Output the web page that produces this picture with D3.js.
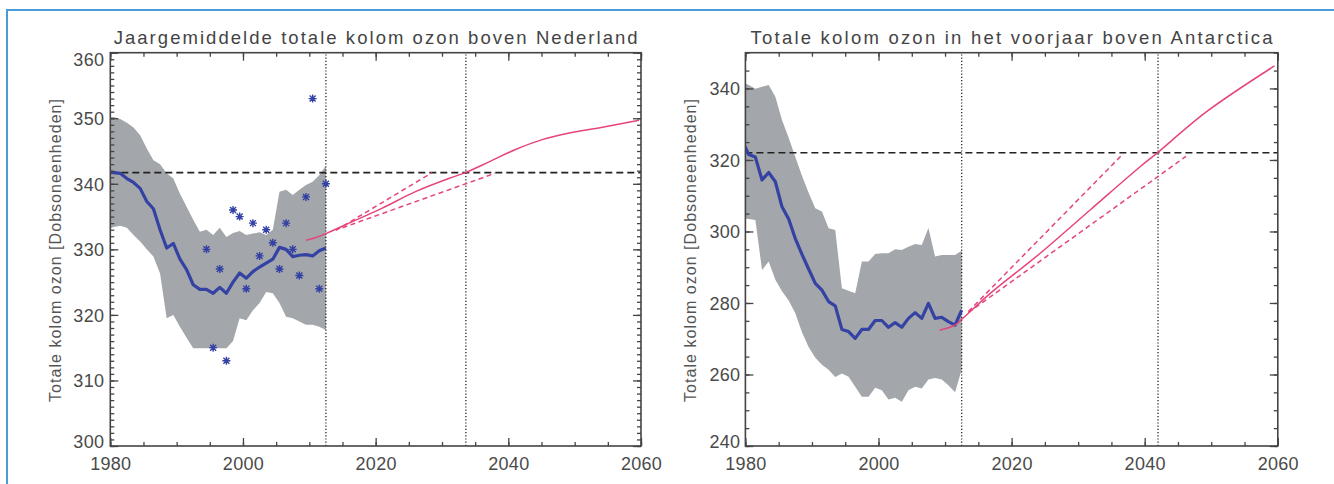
<!DOCTYPE html>
<html><head><meta charset="utf-8">
<script src="https://cdn.jsdelivr.net/npm/d3@7"></script>
<style>body{margin:0;background:#fff}svg{display:block}</style>
</head><body>
<svg id="c" width="1334" height="484"></svg>
<script>
// ---------- data ----------
const midYears = [1979.5,1980.5,1981.5,1982.5,1983.5,1984.5,1985.5,1986.5,1987.5,1988.5,1989.5,1990.5,1991.5,1992.5,1993.5,1994.5,1995.5,1996.5,1997.5,1998.5,1999.5,2000.5,2001.5,2002.5,2003.5,2004.5,2005.5,2006.5,2007.5,2008.5,2009.5,2010.5,2011.5,2012.5];

// Nederland
const nlMean  = [341.8,341.7,341.6,340.8,340.2,339.3,337.3,336.2,333.0,330.2,330.9,328.5,326.9,324.6,323.9,323.9,323.3,324.2,323.3,325.0,326.4,325.6,326.6,327.3,327.9,328.5,330.3,330.0,328.9,329.1,329.2,329.0,329.8,330.2];
const nlUpper = [350.2,350.2,349.9,349.3,348.6,347.4,345.4,343.6,343.0,341.6,340.8,338.5,336.5,334.5,332.7,333.0,332.2,333.3,331.9,332.5,332.8,332.2,332.4,332.6,332.2,333.0,338.8,339.1,338.3,339.1,339.8,340.3,341.3,342.8];
const nlLower = [333.0,333.4,333.6,333.3,332.2,331.2,330.0,328.9,326.3,319.5,320.0,318.2,316.5,314.9,314.9,314.9,314.9,314.9,314.9,316.0,319.5,319.2,320.7,321.8,323.5,323.3,321.8,319.7,319.5,319.0,318.5,318.5,318.2,317.7];
const nlObsYears = [1994.5,1995.5,1996.5,1997.5,1998.5,1999.5,2000.5,2001.5,2002.5,2003.5,2004.5,2005.5,2006.5,2007.5,2008.5,2009.5,2010.5,2011.5,2012.5];
const nlObs      = [330,315,327,313,336,335,324,334,329,333,331,327,334,330,326,338,353,324,340];
const nlProjYears = [2009.5,2011,2012.5,2016,2021,2026,2031,2033.5,2037,2041,2045,2049,2054,2059.7];
const nlProj      = [331.4,331.8,332.4,334.0,336.3,338.8,340.8,341.7,343.3,345.2,346.7,347.7,348.6,349.7];
const nlDashHiYears = [2014,2028.5], nlDashHi = [332.9,341.7];
const nlDashLoYears = [2015,2038],   nlDashLo = [333.3,341.6];
const nlRef = 341.7, nlMarks = [2012.5,2033.6];

// Antarctica
const anMean  = [325.5,321.5,320.8,314.4,316.5,313.9,306.9,303.5,298.0,293.6,289.5,285.5,283.6,280.4,279.2,272.6,272.0,270.1,272.6,272.6,275.1,275.1,273.2,274.5,273.2,275.7,277.3,275.7,279.9,275.7,276.0,274.8,273.8,278.0];
const anUpper = [341.8,341.0,339.9,340.5,341.0,337.7,331.2,326.2,320.8,315.6,310.8,306.5,305.6,300.9,300.4,284.1,283.4,282.7,291.6,291.6,293.7,293.9,293.9,295.0,294.8,295.7,296.5,296.2,301.0,293.0,293.4,293.4,293.4,294.6];
const anLower = [303.7,303.5,303.2,289.2,291.6,286.5,283.3,280.7,277.1,271.8,267.7,264.7,262.7,261.3,259.3,260.3,259.4,256.6,253.8,253.8,256.3,255.6,253.0,253.5,252.4,255.6,256.6,256.1,258.6,259.0,258.6,257.0,255.0,261.3];
const anProjYears = [2009.2,2011.5,2012.5,2016.8,2024.3,2031.8,2039.3,2041.9,2049.3,2059.5];
const anProj      = [272.4,273.8,275.4,282.7,293.9,306.0,318.1,322.0,333.5,346.3];
const anDashHiYears = [2013.5,2036.8], anDashHi = [277.6,321.8];
const anDashLoYears = [2013.5,2046.2], anDashLo = [277.3,321.0];
const anRef = 322, anMarks = [2012.5,2042.0];

const xTicks = [1980,2000,2020,2040,2060];
const nlYTicks = [300,310,320,330,340,350,360];
const anYTicks = [240,260,280,300,320,340];

const titles = ["Jaargemiddelde totale kolom ozon boven Nederland","Totale kolom ozon in het voorjaar boven Antarctica"];
const yTitle = "Totale kolom ozon [Dobsoneenheden]";

// ---------- drawing ----------
const svg = d3.select("#c");
svg.append("rect").attr("width",1334).attr("height",484).attr("fill","#fff");
svg.append("path").attr("d","M7,484V10H1334").attr("fill","none").attr("stroke","#4a9cd8").attr("stroke-width",2);

const FONT = "'Liberation Sans', Arial, sans-serif";
const BLUE = "#3442a4", PINK = "#e6457c", GREY = "#a3a6aa";

function panel(p){
  const x = d3.scaleLinear().domain([1980,2060]).range(p.xr);
  const y = d3.scaleLinear().domain(p.yd).range([446,52.7]);
  const g = svg.append("g");
  const id = "clip"+p.id;
  svg.append("clipPath").attr("id",id).append("rect")
    .attr("x",p.xr[0]).attr("y",52.7).attr("width",p.xr[1]-p.xr[0]).attr("height",446-52.7);
  const pg = g.append("g").attr("clip-path",`url(#${id})`);

  const band = midYears.map((t,i)=>({t, hi:p.upper[i], lo:p.lower[i]}));
  pg.append("path").datum(band)
    .attr("d", d3.area().x(d=>x(d.t)).y0(d=>y(d.lo)).y1(d=>y(d.hi)))
    .attr("fill",GREY).attr("stroke","none");

  pg.append("line").attr("x1",x(1980)).attr("x2",x(2060)).attr("y1",y(p.ref)).attr("y2",y(p.ref))
    .attr("stroke","#222").attr("stroke-width",1.6).attr("stroke-dasharray","7,4");
  p.marks.forEach(m=>{
    pg.append("line").attr("x1",x(m)).attr("x2",x(m)).attr("y1",y(p.yd[0])).attr("y2",y(p.yd[1]))
      .attr("stroke","#111").attr("stroke-width",1.2).attr("stroke-dasharray","1.2,2");
  });

  if(p.obs){
    pg.selectAll("path.star").data(p.obsYears.map((t,i)=>({t,v:p.obs[i]}))).join("path")
      .attr("class","star")
      .attr("transform",d=>`translate(${x(d.t)},${y(d.v)})`)
      .attr("d","M-4,0H4M0,-4V4M-3,-3L3,3M-3,3L3,-3")
      .attr("stroke",BLUE).attr("stroke-width",1.4).attr("fill","none");
  }

  pg.append("path").datum(midYears.map((t,i)=>({t,v:p.mean[i]})))
    .attr("d", d3.line().x(d=>x(d.t)).y(d=>y(d.v)))
    .attr("fill","none").attr("stroke",BLUE).attr("stroke-width",3.2).attr("stroke-linejoin","round");

  const line = d3.line().x(d=>x(d.t)).y(d=>y(d.v));
  pg.append("path").datum(p.projYears.map((t,i)=>({t,v:p.proj[i]})))
    .attr("d", line.curve(d3.curveCatmullRom))
    .attr("fill","none").attr("stroke",PINK).attr("stroke-width",1.5);
  const lineS = d3.line().x(d=>x(d.t)).y(d=>y(d.v));
  [[p.dhY,p.dh],[p.dlY,p.dl]].forEach(([ts,vs])=>{
    pg.append("path").datum(ts.map((t,i)=>({t,v:vs[i]})))
      .attr("d", lineS).attr("fill","none").attr("stroke",PINK).attr("stroke-width",1.5).attr("stroke-dasharray","5,3.5");
  });

  const xMinor = d3.range(1980,2061,5), yMinor = d3.range(p.yd[0],p.yd[1]+0.001,p.yMinorStep);
  const ax = (gen, tr) => { const a = g.append("g").attr("transform",tr).call(gen); a.select(".domain").remove(); a.selectAll("line").attr("stroke","#444").attr("stroke-width",1.3); return a; };
  ax(d3.axisBottom(x).tickValues(xMinor).tickSize(-4).tickFormat(""), `translate(0,446)`);
  ax(d3.axisTop(x).tickValues(xMinor).tickSize(-4).tickFormat(""), `translate(0,52.7)`);
  ax(d3.axisTop(x).tickValues(xTicks).tickSize(-8).tickFormat(""), `translate(0,52.7)`);
  ax(d3.axisLeft(y).tickValues(yMinor).tickSize(-4).tickFormat(""), `translate(${p.xr[0]},0)`);
  ax(d3.axisRight(y).tickValues(yMinor).tickSize(-4).tickFormat(""), `translate(${p.xr[1]},0)`);
  ax(d3.axisRight(y).tickValues(p.yTicks).tickSize(-8).tickFormat(""), `translate(${p.xr[1]},0)`);
  const bx = ax(d3.axisBottom(x).tickValues(xTicks).tickSize(-8).tickPadding(10).tickFormat(d3.format("d")), `translate(0,446)`);
  const ly = ax(d3.axisLeft(y).tickValues(p.yTicks).tickSize(-8).tickPadding(p.labPad).tickFormat(d3.format("d")), `translate(${p.xr[0]},0)`);
  [bx,ly].forEach(a=>a.selectAll("text").attr("font-family",FONT).attr("font-size",18).attr("fill","#4a4a4a").attr("letter-spacing",0.3));
  bx.selectAll("text").attr("dy",null).attr("y",24);
  ly.selectAll("text").attr("dy","0.36em").attr("y",d=>{const yy=y(d); return Math.min(Math.max(yy,52.7+6),446-5)-yy;});

  g.append("rect").attr("x",p.xr[0]).attr("y",52.7).attr("width",p.xr[1]-p.xr[0]).attr("height",446-52.7)
    .attr("fill","none").attr("stroke","#444").attr("stroke-width",1.6);

  g.append("text").attr("x",(p.xr[0]+p.xr[1])/2).attr("y",44).attr("text-anchor","middle")
    .attr("font-family",FONT).attr("font-size",18.5).attr("fill","#444")
    .attr("textLength",p.titleW).attr("lengthAdjust","spacing").text(p.title);
  g.append("text").attr("transform",`translate(${p.ylx},250.5) rotate(-90)`).attr("text-anchor","middle")
    .attr("dy","0.35em").attr("font-family",FONT).attr("font-size",16).attr("fill","#555")
    .attr("textLength",303).attr("lengthAdjust","spacing").text(yTitle);
}

panel({id:"nl", xr:[110.3,641], yd:[300,360], yTicks:nlYTicks, yMinorStep:1, labPad:6,
  mean:nlMean, upper:nlUpper, lower:nlLower, obs:nlObs, obsYears:nlObsYears,
  projYears:nlProjYears, proj:nlProj, dhY:nlDashHiYears, dh:nlDashHi, dlY:nlDashLoYears, dl:nlDashLo,
  ref:nlRef, marks:nlMarks, title:titles[0], titleW:524, ylx:55.6});
panel({id:"an", xr:[745.4,1277.8], yd:[240,350], yTicks:anYTicks, yMinorStep:5, labPad:5,
  mean:anMean, upper:anUpper, lower:anLower, obs:null,
  projYears:anProjYears, proj:anProj, dhY:anDashHiYears, dh:anDashHi, dlY:anDashLoYears, dl:anDashLo,
  ref:anRef, marks:anMarks, title:titles[1], titleW:522, ylx:690});
</script>
</body></html>
